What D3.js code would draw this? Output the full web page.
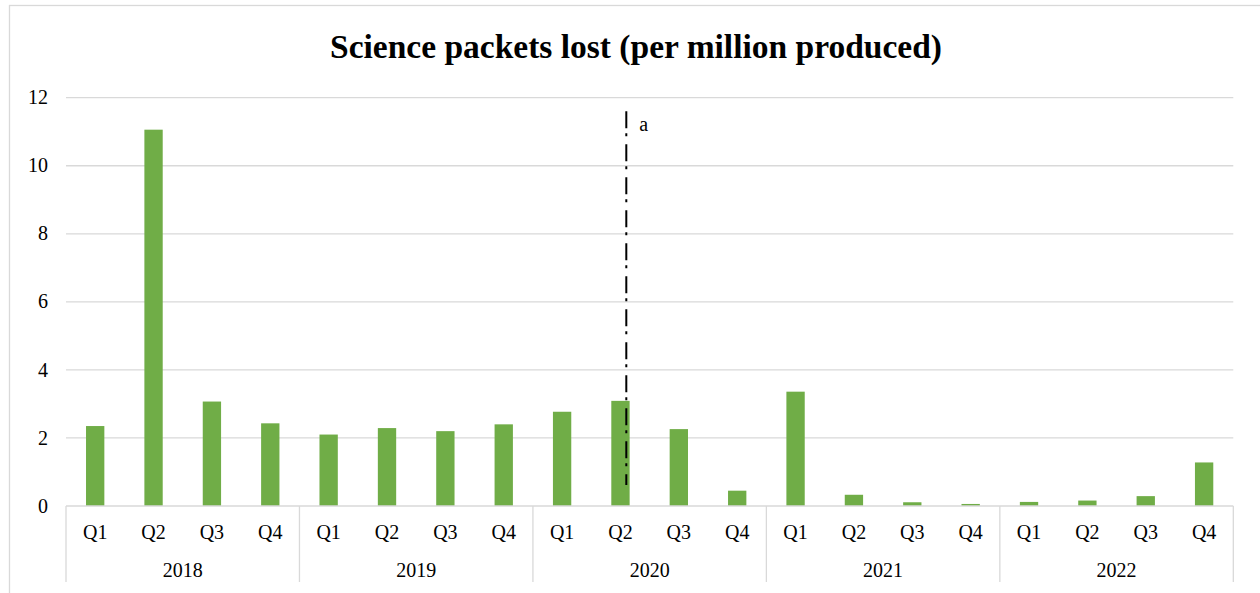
<!DOCTYPE html>
<html>
<head>
<meta charset="utf-8">
<script src="https://cdn.jsdelivr.net/npm/d3@7"></script>
<style>
  body { margin: 0; background: #fff; }
  text { font-family: "Liberation Serif", "Times New Roman", serif; fill: #000; }
</style>
</head>
<body>
<svg id="chart" width="1260" height="593"></svg>
<script>
// data
var years = ['2018', '2019', '2020', '2021', '2022'];
var quarters = ['Q1', 'Q2', 'Q3', 'Q4'];
var lost = [2.35, 11.06, 3.07, 2.43,
            2.10, 2.29, 2.20, 2.40,
            2.77, 3.09, 2.26, 0.45,
            3.36, 0.33, 0.11, 0.06,
            0.12, 0.16, 0.29, 1.28];
var yTicks = [0, 2, 4, 6, 8, 10, 12];
var title = 'Science packets lost (per million produced)';
// annotation "a": marker on 2020 Q2
var markIndex = 9, markFrom = 0.62, markTo = 11.6, markLabel = 'a';

var rows = [];
years.forEach(function(y, i){
	quarters.forEach(function(q, j){
		rows.push({'id': y + ' ' + q, 'year': y, 'q': q, 'v': lost[i*4 + j]});
	});
});

var svg = d3.select('#chart');
var plotLeft = 66, plotRight = 1233.3, plotTop = 97.7, plotBottom = 506;

// chart frame
svg.append('rect')
	.attr('x', 9.5).attr('y', 5.5)
	.attr('width', 1262).attr('height', 600)
	.attr('fill', 'none').attr('stroke', '#d9d9d9').attr('stroke-width', 1.3);

var xScale = d3.scaleBand().domain(rows.map(function(d){ return d.id; }))
	.range([plotLeft, plotRight]).paddingInner(0.686).paddingOuter(0.343);
var yScale = d3.scaleLinear().domain([0, 12]).range([plotBottom, plotTop]);
var step = xScale.step();

//Title
svg.append('text')
	.attr('x', 636).attr('y', 58)
	.attr('text-anchor', 'middle')
	.style('font-size', '33.5px').style('font-weight', 'bold')
	.text(title);

//Gridlines
svg.append('g').selectAll('line').data(yTicks.slice(1)).enter().append('line')
	.attr('x1', plotLeft).attr('x2', plotRight)
	.attr('y1', function(d){ return yScale(d); })
	.attr('y2', function(d){ return yScale(d); })
	.attr('stroke', '#d9d9d9').attr('stroke-width', 1.3);

//Y labels
svg.append('g').selectAll('text').data(yTicks).enter().append('text')
	.attr('x', 48)
	.attr('y', function(d){ return yScale(d); })
	.attr('dy', '0.33em')
	.attr('text-anchor', 'end')
	.style('font-size', '20px')
	.text(function(d){ return d; });

//Bars
svg.append('g').selectAll('rect').data(rows).enter().append('rect')
	.attr('x', function(d){ return xScale(d.id); })
	.attr('y', function(d){ return yScale(d.v); })
	.attr('width', xScale.bandwidth())
	.attr('height', function(d){ return yScale(0) - yScale(d.v); })
	.attr('fill', '#70ad47');

//Category axis
svg.append('line')
	.attr('x1', plotLeft).attr('x2', plotRight)
	.attr('y1', yScale(0)).attr('y2', yScale(0))
	.attr('stroke', '#d9d9d9').attr('stroke-width', 1.3);

var seps = d3.range(years.length + 1);
svg.append('g').selectAll('line').data(seps).enter().append('line')
	.attr('x1', function(d){ return plotLeft + d*4*step; })
	.attr('x2', function(d){ return plotLeft + d*4*step; })
	.attr('y1', yScale(0)).attr('y2', 582)
	.attr('stroke', '#d9d9d9').attr('stroke-width', 1.3);

svg.append('g').selectAll('text').data(rows).enter().append('text')
	.attr('x', function(d){ return xScale(d.id) + xScale.bandwidth()/2; })
	.attr('y', 538.5)
	.attr('text-anchor', 'middle')
	.style('font-size', '20px')
	.text(function(d){ return d.q; });

svg.append('g').selectAll('text').data(years).enter().append('text')
	.attr('x', function(d, i){ return plotLeft + (i*4 + 2)*step; })
	.attr('y', 576.5)
	.attr('text-anchor', 'middle')
	.style('font-size', '20px')
	.text(function(d){ return d; });

//Marker line
var mx = xScale(rows[markIndex].id) + xScale.bandwidth()/2 + step*0.1;
svg.append('line')
	.attr('x1', mx).attr('x2', mx)
	.attr('y1', yScale(markTo)).attr('y2', yScale(markFrom))
	.attr('stroke', '#000').attr('stroke-width', 2)
	.attr('stroke-dasharray', '17,5,3,8');

svg.append('text')
	.attr('x', mx + 13).attr('y', yScale(markTo) + 20)
	.style('font-size', '20px')
	.text(markLabel);
</script>
</body>
</html>
